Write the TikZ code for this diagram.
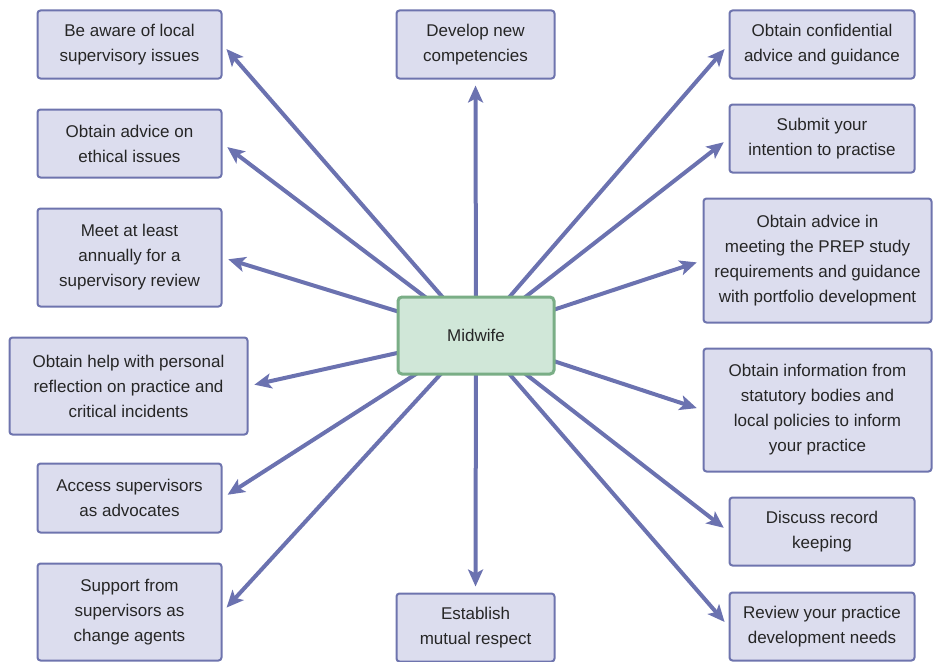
\documentclass[tikz,border=0pt]{standalone}
\usepackage{fontspec}
\setmainfont{Liberation Sans}
\usetikzlibrary{arrows.meta,backgrounds}
\definecolor{boxfill}{HTML}{DCDDEE}
\definecolor{boxline}{HTML}{6E74AE}
\definecolor{arrcol}{HTML}{6B72B0}
\definecolor{mwfill}{HTML}{D0E7D8}
\definecolor{mwline}{HTML}{7AAE86}
\tikzset{
  item/.style={draw=boxline, fill=boxfill, line width=2pt, rounded corners=3pt,
    align=center, inner sep=0pt, font=\fontsize{17}{25}\selectfont, text=black!85},
  hub/.style={draw=mwline, fill=mwfill, line width=3pt, rounded corners=4pt,
    align=center, inner sep=0pt, font=\fontsize{17}{25}\selectfont, text=black!85,
    minimum width=156pt, minimum height=77pt},
  link/.style={draw=arrcol, line width=4pt, shorten >=6pt,
    -{Stealth[length=17pt,width=15pt,inset=4pt]}}
}
\begin{document}
\begin{tikzpicture}[x=1pt,y=-1pt]
\useasboundingbox (0,0) rectangle (933,661);
\node[hub] (mw) at (476,335.5) {Midwife};
% left column
\node[item, minimum width=184pt, minimum height=68pt] (b1) at (129.5,44.5) {Be aware of local\\supervisory issues};
\node[item, minimum width=184pt, minimum height=68pt] (b2) at (129.5,143.5) {Obtain advice on\\ethical issues};
\node[item, minimum width=184pt, minimum height=98pt] (b3) at (129.5,257.5) {Meet at least\\annually for a\\supervisory review};
\node[item, minimum width=238pt, minimum height=97pt] (b4) at (128.5,386) {Obtain help with personal\\reflection on practice and\\critical incidents};
\node[item, minimum width=184pt, minimum height=69pt] (b5) at (129.5,498) {Access supervisors\\as advocates};
\node[item, minimum width=184pt, minimum height=97pt] (b6) at (129.5,612) {Support from\\supervisors as\\change agents};
% centre column
\node[item, minimum width=158pt, minimum height=68pt] (c1) at (475.5,44.5) {Develop new\\competencies};
\node[item, minimum width=158pt, minimum height=68pt] (c2) at (475.5,627.5) {Establish\\mutual respect};
% right column
\node[item, minimum width=185pt, minimum height=68pt] (r1) at (822,44.5) {Obtain confidential\\advice and guidance};
\node[item, minimum width=185pt, minimum height=68pt] (r2) at (822,138.5) {Submit your\\intention to practise};
\node[item, minimum width=228pt, minimum height=124pt] (r3) at (817.5,260.5) {Obtain advice in\\meeting the PREP study\\requirements and guidance\\with portfolio development};
\node[item, minimum width=228pt, minimum height=123pt] (r4) at (817.5,410) {Obtain information from\\statutory bodies and\\local policies to inform\\your practice};
\node[item, minimum width=185pt, minimum height=68pt] (r5) at (822,531.5) {Discuss record\\keeping};
\node[item, minimum width=185pt, minimum height=68pt] (r6) at (822,626.5) {Review your practice\\development needs};
\begin{pgfonlayer}{background}
\foreach \t in {b1,b2,b3,b4,b5,b6} \draw[link] (mw.center) -- (\t.east);
\foreach \t in {r1,r2,r3,r4,r5,r6} \draw[link] (mw.center) -- (\t.west);
\draw[link] (mw.center) -- (c1.south);
\draw[link] (mw.center) -- (c2.north);
\end{pgfonlayer}
\end{tikzpicture}
\end{document}
